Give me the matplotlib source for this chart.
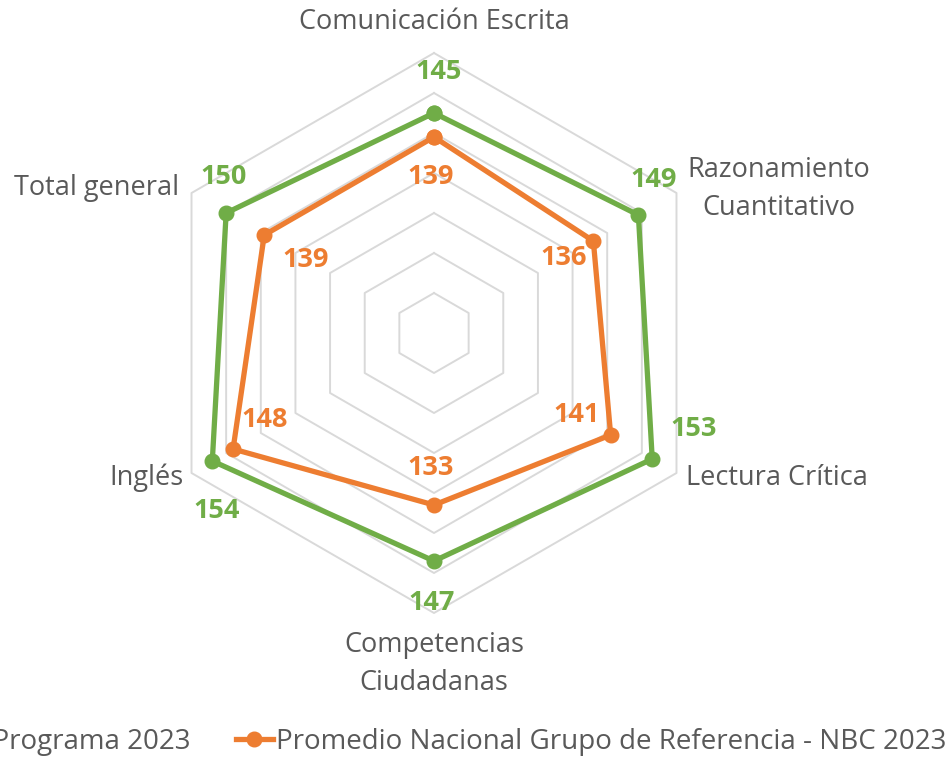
import numpy as np
import matplotlib
matplotlib.use("Agg")
import matplotlib.pyplot as plt

categories = ["Comunicación Escrita", "Razonamiento\nCuantitativo", "Lectura Crítica",
              "Competencias\nCiudadanas", "Inglés", "Total general"]
programa = [145, 149, 153, 147, 154, 150]
nacional = [139, 136, 141, 133, 148, 139]
series_names = ["Promedio Programa 2023", "Promedio Nacional Grupo de Referencia - NBC 2023"]
r_min, r_max, r_step = 90, 160, 10

GREEN = "#70AD47"
ORANGE = "#ED7D31"
TEXT = "#595959"
GRID = "#D9D9D9"

plt.rcParams['font.family'] = ['Open Sans', 'DejaVu Sans']

W, H = 951, 758
fig = plt.figure(figsize=(W / 100, H / 100), dpi=100)
cx, cy, R = 434, 333, 280
ax = fig.add_axes([(cx - R) / W, (H - cy - R) / H, 2 * R / W, 2 * R / H], projection='polar')
ax.set_theta_zero_location('N')
ax.set_theta_direction(-1)
ax.set_ylim(r_min, r_max)
ax.grid(False)
ax.spines['polar'].set_visible(False)
ax.set_xticks([])
ax.set_yticks([])
ax.patch.set_alpha(0)

n = len(categories)
theta = np.arange(n) * 2 * np.pi / n
theta_c = np.append(theta, theta[0])

# hexagonal grid rings
for rv in np.arange(r_min + r_step, r_max + 1, r_step):
    ax.plot(theta_c, [rv] * (n + 1), color=GRID, lw=1.4, zorder=1, clip_on=False)

ax.plot(theta_c, programa + programa[:1], color=GREEN, lw=3.8, marker='o', ms=10.5,
        zorder=3, clip_on=False, label=series_names[0])
ax.plot(theta_c, nacional + nacional[:1], color=ORANGE, lw=3.8, marker='o', ms=10.5,
        zorder=3, clip_on=False, label=series_names[1])

fs = 19.5
# category labels: offsets in pixels from axis end
cat_off = [((0, 311 - R + 0), 'center'), ((102, 4), 'center'), ((10, -5), 'left'),
           ((0, -51), 'center'), ((-8, -5), 'right'), ((-12, 5), 'right')]
for i, lab in enumerate(categories):
    (dx, dy), ha = cat_off[i]
    ax.annotate(lab, xy=(theta[i], r_max), xytext=(dx, dy), textcoords='offset pixels',
                ha=ha, va='center', fontsize=fs, color=TEXT, linespacing=1.45,
                annotation_clip=False)

g_off = [(5, 41), (15, 35), (41, 30), (-2, -42), (4, -50), (-3, 36)]
o_off = [(-3, -40), (-30, -17), (-34, 20), (-3, 37), (32, 29), (41, -25)]
for i in range(n):
    ax.annotate(str(programa[i]), xy=(theta[i], programa[i]), xytext=g_off[i],
                textcoords='offset pixels', ha='center', va='center', fontsize=19.5,
                fontweight='bold', color=GREEN, annotation_clip=False)
    ax.annotate(str(nacional[i]), xy=(theta[i], nacional[i]), xytext=o_off[i],
                textcoords='offset pixels', ha='center', va='center', fontsize=19.5,
                fontweight='bold', color=ORANGE, annotation_clip=False)

leg = fig.legend(loc='center right', bbox_to_anchor=(946 / W, 1 - 742 / H), ncol=2,
                 frameon=False, fontsize=20, handlelength=1.33, handletextpad=0.1,
                 columnspacing=1.65, borderaxespad=0, borderpad=0)
for t in leg.get_texts():
    t.set_color(TEXT)

fig.savefig("out.png", dpi=100, facecolor='white')
